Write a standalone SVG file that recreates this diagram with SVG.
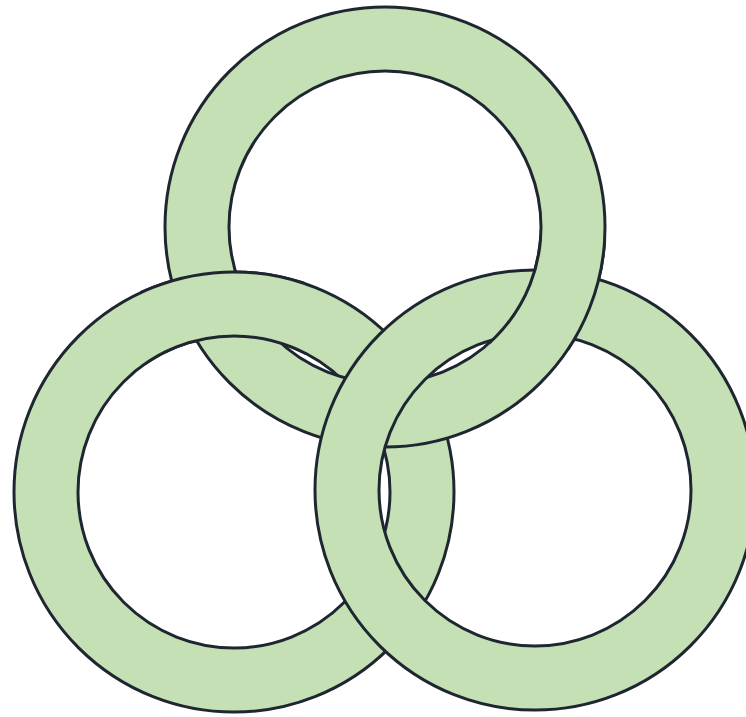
<svg xmlns="http://www.w3.org/2000/svg" xmlns:xlink="http://www.w3.org/1999/xlink" width="746" height="717" viewBox="0 0 746 717">
<style>
.ring{fill:#c5e0b4;fill-rule:evenodd;stroke:#1e2631;stroke-width:3}
</style>
<defs>
<path id="ringShape" d="M-220,0 a220,220 0 1,0 440,0 a220,220 0 1,0 -440,0 Z M-156,0 a156,156 0 1,0 312,0 a156,156 0 1,0 -312,0 Z"/>
<clipPath id="clipUL"><rect x="140" y="240" width="165" height="125"/></clipPath>
<clipPath id="clipUR"><rect x="490" y="240" width="135" height="110"/></clipPath>
</defs>
<rect width="746" height="717" fill="#ffffff"/>
<g id="ring-left"><use xlink:href="#ringShape" class="ring" transform="translate(234,492)"/></g>
<g id="ring-top"><use xlink:href="#ringShape" class="ring" transform="translate(385,227)"/></g>
<g id="ring-right"><use xlink:href="#ringShape" class="ring" transform="translate(535,490)"/></g>
<g id="overlap-top-over-right" clip-path="url(#clipUR)"><use xlink:href="#ringShape" class="ring" transform="translate(385,227)"/></g>
<g id="overlap-left-over-top" clip-path="url(#clipUL)"><use xlink:href="#ringShape" class="ring" transform="translate(234,492)"/></g>
</svg>
